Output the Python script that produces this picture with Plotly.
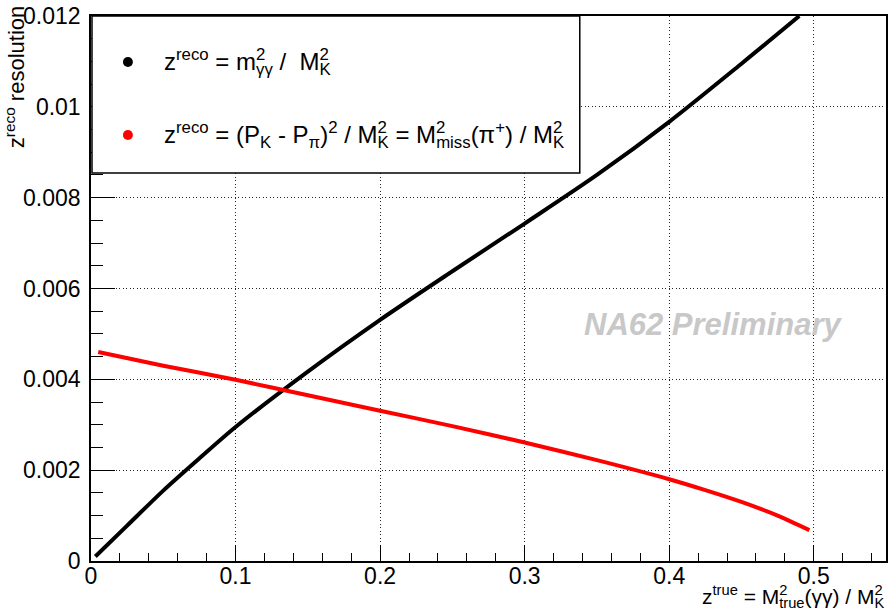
import plotly.graph_objects as go

# ---- data ----
z_true_gg = [0.003, 0.025, 0.05, 0.075, 0.1, 0.15, 0.2, 0.25, 0.3, 0.35, 0.4, 0.45, 0.49]
res_gg = [0.0001, 0.00078, 0.00155, 0.00226, 0.00295, 0.00417, 0.00531, 0.00638,
          0.00743, 0.00850, 0.00967, 0.01095, 0.0120]

z_true_miss = [0.005, 0.05, 0.1, 0.15, 0.2, 0.25, 0.3, 0.35, 0.4, 0.425, 0.45, 0.475, 0.497]
res_miss = [0.0046, 0.00430, 0.00399, 0.00365, 0.00331, 0.00297, 0.00261,
            0.00222, 0.00180, 0.00156, 0.00130, 0.00100, 0.00068]

x_ticks = [0, 0.1, 0.2, 0.3, 0.4, 0.5]
x_ticklabels = ["0", "0.1", "0.2", "0.3", "0.4", "0.5"]
y_ticks = [0, 0.002, 0.004, 0.006, 0.008, 0.01, 0.012]
y_ticklabels = ["0", "0.002", "0.004", "0.006", "0.008", "0.01", "0.012"]

SQ = "<span style=\"letter-spacing:-9.3px\">2</span>"   # stacked superscript 2
legend_labels = [
    "z<sup>reco</sup> = m<sup>" + SQ + "</sup><sub>γγ</sub> /  M<sup>" + SQ + "</sup><sub>K</sub>",
    "z<sup>reco</sup> = (P<sub>K</sub> - P<sub>π</sub>)<sup>2</sup> / M<sup>" + SQ +
    "</sup><sub>K</sub> = M<sup>" + SQ + "</sup><sub>miss</sub>(π<sup>+</sup>) / M<sup>" + SQ +
    "</sup><sub>K</sub>",
]
legend_colors = ["#000000", "#ff0000"]

FONT = "Liberation Sans, Arial, Helvetica, sans-serif"
W, H = 891, 613
L, R, T, B = 91, 3, 16, 52
PW, PH = W - L - R, H - T - B


def px(xp):
    return (xp - L) / PW


def py(yp):
    return (H - B - yp) / PH


fig = go.Figure()
fig.add_trace(go.Scatter(x=z_true_gg, y=res_gg, mode="lines",
                         line=dict(color=legend_colors[0], width=4, shape="spline", smoothing=0.8),
                         showlegend=False, cliponaxis=True))
fig.add_trace(go.Scatter(x=z_true_miss, y=res_miss, mode="lines",
                         line=dict(color=legend_colors[1], width=4, shape="spline", smoothing=0.8),
                         showlegend=False, cliponaxis=True))

axis_common = dict(
    showline=True, linecolor="black", linewidth=1.5, mirror=True,
    ticks="inside", tickcolor="black", tickwidth=1,
    showgrid=True, gridcolor="#222222", gridwidth=1, griddash="1px,2.5px",
    zeroline=False, tickfont=dict(family=FONT, size=23, color="black"),
)

fig.update_xaxes(range=[0, 0.55], tickvals=x_ticks, ticktext=x_ticklabels,
                 ticklen=16, ticklabelstandoff=-6,
                 minor=dict(dtick=0.02, tick0=0, ticks="inside", ticklen=8,
                            tickcolor="black", showgrid=False),
                 **axis_common)
fig.update_yaxes(range=[0, 0.012], tickvals=y_ticks, ticktext=y_ticklabels,
                 ticklen=24, ticklabelstandoff=4,
                 minor=dict(dtick=0.0005, tick0=0, ticks="inside", ticklen=12,
                            tickcolor="black", showgrid=False),
                 **axis_common)

shapes = []
annotations = []

# legend box
shapes.append(dict(type="rect", xref="paper", yref="paper",
                   x0=px(92), x1=px(581), y0=py(173), y1=py(16),
                   fillcolor="white", line=dict(color="black", width=1.5),
                   layer="above"))
legend_y = [62, 135]
r = 5
for lab, col, yy in zip(legend_labels, legend_colors, legend_y):
    shapes.append(dict(type="circle", xref="paper", yref="paper",
                       x0=px(128 - r), x1=px(128 + r), y0=py(yy + r), y1=py(yy - r),
                       fillcolor=col, line=dict(color=col, width=0), layer="above"))
    annotations.append(dict(text=lab, xref="paper", yref="paper", x=px(162), y=py(yy),
                            xanchor="left", yanchor="middle", showarrow=False,
                            font=dict(family=FONT, size=24, color="black")))

# y axis title
annotations.append(dict(text="z<sup>reco</sup> resolution", textangle=-90,
                        xref="paper", yref="paper", x=px(15), y=py(4),
                        xanchor="center", yanchor="top", showarrow=False,
                        font=dict(family=FONT, size=22, color="black")))
# x axis title
annotations.append(dict(
    text="z<sup>true</sup> = M<sup><span style=\"letter-spacing:-8.2px\">2</span></sup><sub>true</sub>(γγ) / "
         "M<sup><span style=\"letter-spacing:-8.2px\">2</span></sup><sub>K</sub>",
    xref="paper", yref="paper", x=px(888), y=py(613),
    xanchor="right", yanchor="bottom", showarrow=False,
    font=dict(family=FONT, size=21, color="black")))
# watermark
annotations.append(dict(text="<b><i>NA62 Preliminary</i></b>", xref="paper", yref="paper",
                        x=px(715), y=py(324), xanchor="center", yanchor="middle",
                        showarrow=False, font=dict(family=FONT, size=31, color="#c8c8c8")))

fig.update_layout(width=W, height=H, margin=dict(l=L, r=R, t=T, b=B),
                  paper_bgcolor="white", plot_bgcolor="white",
                  shapes=shapes, annotations=annotations, showlegend=False)

fig.write_html("out.html")
